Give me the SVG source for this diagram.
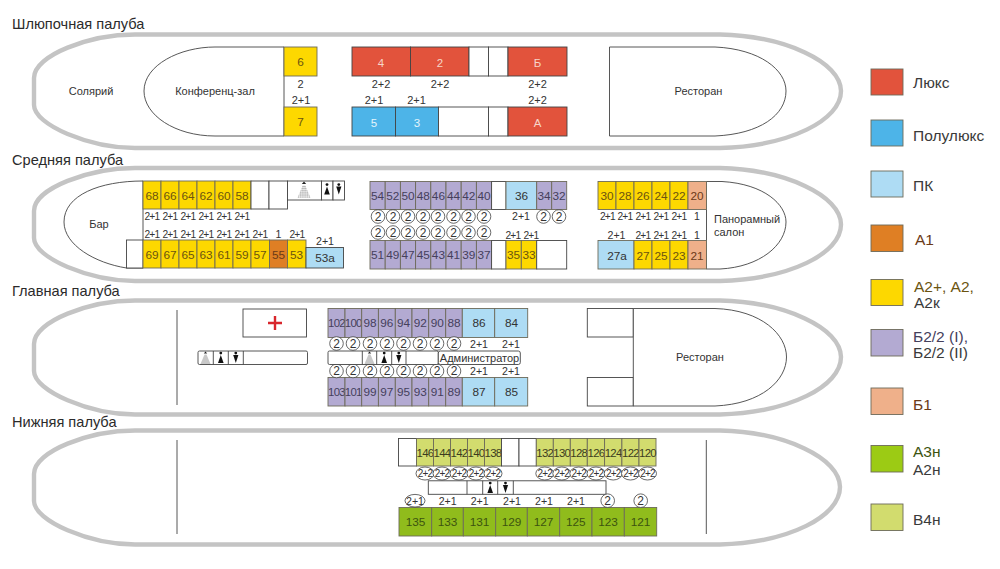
<svg xmlns="http://www.w3.org/2000/svg" width="1000" height="569" viewBox="0 0 1000 569">
<style>
text{font-family:"Liberation Sans",Arial,sans-serif;font-size:11px;fill:#333;text-anchor:middle}
.h{font-size:14.6px;text-anchor:start;fill:#2b2b2b}
.lg{font-size:15.5px;text-anchor:start;fill:#3a3a3a}
.n{font-size:11.8px;fill:#4a4228}
.nw{font-size:11.5px;fill:#f6d6c8}
.s{font-size:10.6px}
.t{font-size:10.2px;letter-spacing:-.7px}
.x{font-size:11.4px;letter-spacing:-.7px;fill:#3c3c20}
.y{font-size:10px;letter-spacing:-.8px}
.hull{fill:#fff;stroke:#c4c4c4;stroke-width:4.4}
.o,.e,.ln{stroke:#444;stroke-width:.9}
.o,.e{fill:#fff}
.ln{fill:none}
.c{fill:#fff;stroke:#444;stroke-width:.8}
.sb{stroke:#6d6a5a;stroke-width:.9}
.red{fill:#e2533c}.blu{fill:#4db4e8}.lbl{fill:#aedcf4}.org{fill:#df7f24}.yel{fill:#fdd800}.pur{fill:#b3aad2}.pea{fill:#efb08a}.grn{fill:#90bc1c}.oli{fill:#d2dc6e}
.yel+text{fill:#6b5410}.pur+text{fill:#45405c}.grn+text{fill:#3d5410}.pea+text,.org+text{fill:#6b3a18}
</style>
<defs>
<pattern id="dots" width="1.6" height="1.6" patternUnits="userSpaceOnUse"><rect width="1.6" height="1.6" fill="#fff"/><circle cx=".8" cy=".8" r=".55" fill="#666"/></pattern>
<g id="sh"><path d="M-1.7 2 L0 0 L1.7 2Z" fill="#222"/><path d="M-1 3 L1 3 L5 12.5 L-5 12.5Z" fill="url(#dots)"/></g>
<g id="wo"><circle cx="0" cy="1.6" r="1.4" fill="#111"/><path d="M0 3.4 L2.8 11.5 L-2.8 11.5Z" fill="#111"/></g>
<g id="ma"><circle cx="0" cy="1.6" r="1.4" fill="#111"/><path d="M-2.6 3.6 L2.6 3.6 L0 11.5Z" fill="#111"/></g>
<g id="cr"><circle r="6.8" class="c"/><text y="4.300" style="font-size:12px">2</text></g>
</defs>

<g id="deck1">
<text class="h" x="12" y="29">Шлюпочная палуба</text>
<path class="hull" d="M135 34.500 L720 34.500 C785 36 841 62 841 91 C841 120 790 146 720 148 L135 148 C90 148 34 125 34 105 L34 78 C34 55 90 34.500 135 34.500Z"/>
<g id="konf"><path class="o" d="M284 47 L215 47 C180 47 144 65 144 91 C144 115 175 136 215 136 L284 136Z"/><text x="215" y="95">Конференц-зал</text></g>
<text id="solar" x="91" y="95">Солярий</text>
<g id="c6"><rect class="sb yel" x="284" y="47" width="33" height="29"/><text class="n" x="300.500" y="66">6</text></g>
<g id="c7"><rect class="sb yel" x="284" y="107" width="33" height="29"/><text class="n" x="300.500" y="126">7</text></g>
<g id="c4"><rect class="o red" x="352" y="47" width="58.500" height="29"/><text class="nw" x="381" y="67">4</text></g>
<g id="c2"><rect class="o red" x="410.500" y="47" width="58.500" height="29"/><text class="nw" x="440" y="67">2</text></g>
<rect class="e" x="469" y="47" width="19.500" height="29"/><rect class="e" x="488.500" y="47" width="19.500" height="29"/>
<g id="cB"><rect class="o red" x="508" y="47" width="59" height="29"/><text class="nw" x="537.500" y="67">Б</text></g>
<g id="c5"><rect class="o blu" x="352" y="107" width="43.500" height="29"/><text class="nw" x="374" y="127" style="fill:#e4f4fc">5</text></g>
<g id="c3"><rect class="o blu" x="395.500" y="107" width="43" height="29"/><text class="nw" x="417" y="127" style="fill:#e4f4fc">3</text></g>
<rect class="e" x="438.500" y="107" width="50" height="29"/><rect class="e" x="488.500" y="107" width="19.500" height="29"/>
<g id="cA"><rect class="o red" x="508" y="107" width="59" height="29"/><text class="nw" x="537.500" y="127">А</text></g>
<g id="rest1"><path class="o" d="M609.500 47 L715 47 C760 49 786 70 786 91 C786 115 760 134 715 136 L609.500 136Z"/><text x="698.500" y="95">Ресторан</text></g>
<g class="cap">
<text x="300.500" y="87.500">2</text><text x="301" y="104">2+1</text>
<text x="381" y="87.500">2+2</text><text x="440" y="87.500">2+2</text><text x="537.500" y="87.500">2+2</text>
<text x="374" y="104">2+1</text><text x="416.500" y="104">2+1</text><text x="537.500" y="104">2+2</text>
</g>
</g>

<g id="deck2">
<text class="h" x="12" y="165">Средняя палуба</text>
<path class="hull" d="M135 168 L720 168 C785 169.500 841 195.500 841 224.500 C841 253.500 790 279 720 281 L135 281 C90 281 34 258 34 238 L34 211 C34 188 90 168 135 168Z"/>
<g id="bar"><path class="o" d="M143 181 C100 181 64 195 64 222 C64 245 95 263 126.500 268 L143 268Z"/><text x="99" y="228">Бар</text></g>
<rect class="e" x="126.500" y="240" width="16.500" height="28"/>
<g id="c68"><rect class="sb yel" x="143" y="181" width="18" height="28"/><text class="n" x="152" y="200">68</text></g>
<g id="c66"><rect class="sb yel" x="161" y="181" width="18" height="28"/><text class="n" x="170" y="200">66</text></g>
<g id="c64"><rect class="sb yel" x="179" y="181" width="18" height="28"/><text class="n" x="188" y="200">64</text></g>
<g id="c62"><rect class="sb yel" x="197" y="181" width="18" height="28"/><text class="n" x="206" y="200">62</text></g>
<g id="c60"><rect class="sb yel" x="215" y="181" width="18" height="28"/><text class="n" x="224" y="200">60</text></g>
<g id="c58"><rect class="sb yel" x="233" y="181" width="18" height="28"/><text class="n" x="242" y="200">58</text></g>
<rect class="e" x="251" y="181" width="18" height="28"/><rect class="e" x="269" y="181" width="18.500" height="28"/>
<g id="wc2"><rect class="e" x="287.500" y="181" width="34" height="19"/><rect class="e" x="321.500" y="181" width="11.500" height="19"/><rect class="e" x="333" y="181" width="11.500" height="19"/>
<use href="#sh" transform="translate(304 181.500) scale(1.300)"/><use href="#wo" transform="translate(327 183)"/><use href="#ma" transform="translate(338.800 183)"/></g>
<g id="c69"><rect class="sb yel" x="143" y="240" width="18" height="28"/><text class="n" x="152" y="259">69</text></g>
<g id="c67"><rect class="sb yel" x="161" y="240" width="18" height="28"/><text class="n" x="170" y="259">67</text></g>
<g id="c65"><rect class="sb yel" x="179" y="240" width="18" height="28"/><text class="n" x="188" y="259">65</text></g>
<g id="c63"><rect class="sb yel" x="197" y="240" width="18" height="28"/><text class="n" x="206" y="259">63</text></g>
<g id="c61"><rect class="sb yel" x="215" y="240" width="18" height="28"/><text class="n" x="224" y="259">61</text></g>
<g id="c59"><rect class="sb yel" x="233" y="240" width="18" height="28"/><text class="n" x="242" y="259">59</text></g>
<g id="c57"><rect class="sb yel" x="251" y="240" width="18.500" height="28"/><text class="n" x="260" y="259">57</text></g>
<g id="c55"><rect class="sb org" x="269.500" y="240" width="18" height="28"/><text class="n" x="278.500" y="259">55</text></g>
<g id="c53"><rect class="sb yel" x="287.500" y="240" width="18.500" height="28"/><text class="n" x="296.500" y="259">53</text></g>
<g id="c53a"><rect class="o lbl" x="306" y="247.500" width="37.500" height="20.500"/><text class="n" x="325" y="261.500" style="fill:#333">53а</text></g>
<g id="caps2l" class="cap">
<text class="t" x="152" y="220">2+1</text><text class="t" x="170" y="220">2+1</text><text class="t" x="188" y="220">2+1</text><text class="t" x="206" y="220">2+1</text><text class="t" x="224" y="220">2+1</text><text class="t" x="242" y="220">2+1</text>
<text class="t" x="152" y="238">2+1</text><text class="t" x="170" y="238">2+1</text><text class="t" x="188" y="238">2+1</text><text class="t" x="206" y="238">2+1</text><text class="t" x="224" y="238">2+1</text><text class="t" x="242" y="238">2+1</text><text class="t" x="260" y="238">2+1</text><text class="s" x="278.500" y="238">1</text><text class="t" x="297" y="238">2+1</text>
<text class="s" x="325" y="245">2+1</text>
</g>
<g id="c54"><rect class="sb pur" x="370" y="181.500" width="15.200" height="28"/><text class="n" x="377.600" y="200">54</text></g>
<g id="c52"><rect class="sb pur" x="385.200" y="181.500" width="15.200" height="28"/><text class="n" x="392.800" y="200">52</text></g>
<g id="c50"><rect class="sb pur" x="400.400" y="181.500" width="15.200" height="28"/><text class="n" x="408" y="200">50</text></g>
<g id="c48"><rect class="sb pur" x="415.600" y="181.500" width="15.200" height="28"/><text class="n" x="423.200" y="200">48</text></g>
<g id="c46"><rect class="sb pur" x="430.800" y="181.500" width="15.200" height="28"/><text class="n" x="438.400" y="200">46</text></g>
<g id="c44"><rect class="sb pur" x="446" y="181.500" width="15.200" height="28"/><text class="n" x="453.600" y="200">44</text></g>
<g id="c42"><rect class="sb pur" x="461.200" y="181.500" width="15.200" height="28"/><text class="n" x="468.800" y="200">42</text></g>
<g id="c40"><rect class="sb pur" x="476.400" y="181.500" width="15.200" height="28"/><text class="n" x="484" y="200">40</text></g>
<rect class="e" x="491.600" y="181.500" width="14.400" height="28"/>
<g id="c36"><rect class="sb lbl" x="506" y="181.500" width="30.700" height="28"/><text class="n" x="521.500" y="200" style="fill:#333">36</text></g>
<g id="c34"><rect class="sb pur" x="536.700" y="181.500" width="15" height="28"/><text class="n" x="544" y="200">34</text></g>
<g id="c32"><rect class="sb pur" x="551.700" y="181.500" width="15" height="28"/><text class="n" x="559" y="200">32</text></g>
<g id="c51"><rect class="sb pur" x="370" y="240.500" width="15.200" height="28.500"/><text class="n" x="377.600" y="259">51</text></g>
<g id="c49"><rect class="sb pur" x="385.200" y="240.500" width="15.200" height="28.500"/><text class="n" x="392.800" y="259">49</text></g>
<g id="c47"><rect class="sb pur" x="400.400" y="240.500" width="15.200" height="28.500"/><text class="n" x="408" y="259">47</text></g>
<g id="c45"><rect class="sb pur" x="415.600" y="240.500" width="15.200" height="28.500"/><text class="n" x="423.200" y="259">45</text></g>
<g id="c43"><rect class="sb pur" x="430.800" y="240.500" width="15.200" height="28.500"/><text class="n" x="438.400" y="259">43</text></g>
<g id="c41"><rect class="sb pur" x="446" y="240.500" width="15.200" height="28.500"/><text class="n" x="453.600" y="259">41</text></g>
<g id="c39"><rect class="sb pur" x="461.200" y="240.500" width="15.200" height="28.500"/><text class="n" x="468.800" y="259">39</text></g>
<g id="c37"><rect class="sb pur" x="476.400" y="240.500" width="15.200" height="28.500"/><text class="n" x="484" y="259">37</text></g>
<rect class="e" x="491.600" y="240.500" width="14.400" height="28.500"/>
<g id="c35"><rect class="sb yel" x="506" y="240.500" width="15.300" height="28.500"/><text class="n" x="513.600" y="259">35</text></g>
<g id="c33"><rect class="sb yel" x="521.300" y="240.500" width="15.400" height="28.500"/><text class="n" x="529" y="259">33</text></g>
<rect class="e" x="536.700" y="240.500" width="30" height="28.500"/>
<g id="circ2">
<use href="#cr" x="378" y="216.500"/><use href="#cr" x="393" y="216.500"/><use href="#cr" x="408" y="216.500"/><use href="#cr" x="423" y="216.500"/><use href="#cr" x="438" y="216.500"/><use href="#cr" x="453.500" y="216.500"/><use href="#cr" x="468.500" y="216.500"/><use href="#cr" x="484" y="216.500"/>
<use href="#cr" x="378" y="232.500"/><use href="#cr" x="393" y="232.500"/><use href="#cr" x="408" y="232.500"/><use href="#cr" x="423" y="232.500"/><use href="#cr" x="438" y="232.500"/><use href="#cr" x="453.500" y="232.500"/><use href="#cr" x="468.500" y="232.500"/><use href="#cr" x="484" y="232.500"/>
<use href="#cr" x="543.500" y="216.500"/><use href="#cr" x="559" y="216.500"/>
</g>
<text class="s" x="521" y="220">2+1</text><text class="t" x="513" y="238.500">2+1</text><text class="t" x="531" y="238.500">2+1</text>
<g id="pano"><path class="o" d="M706.500 181.500 L722 181.500 C765 184 786 205 786 222 C786 245 760 267 720 269 L706.500 269Z"/><text x="714" y="223" style="text-anchor:start">Панорамный</text><text x="714" y="235.500" style="text-anchor:start">салон</text></g>
<g id="c30"><rect class="sb yel" x="598" y="181.500" width="18" height="28"/><text class="n" x="607" y="200">30</text></g>
<g id="c28"><rect class="sb yel" x="616" y="181.500" width="18" height="28"/><text class="n" x="625" y="200">28</text></g>
<g id="c26"><rect class="sb yel" x="634" y="181.500" width="18" height="28"/><text class="n" x="643" y="200">26</text></g>
<g id="c24"><rect class="sb yel" x="652" y="181.500" width="18" height="28"/><text class="n" x="661" y="200">24</text></g>
<g id="c22"><rect class="sb yel" x="670" y="181.500" width="18" height="28"/><text class="n" x="679" y="200">22</text></g>
<g id="c20"><rect class="sb pea" x="688" y="181.500" width="18.500" height="28"/><text class="n" x="697" y="200">20</text></g>
<g id="c27a"><rect class="sb lbl" x="598" y="240.500" width="36" height="28.500"/><text class="n" x="617" y="259.500" style="fill:#333">27а</text></g>
<g id="c27"><rect class="sb yel" x="634" y="240.500" width="18" height="28.500"/><text class="n" x="643" y="259.500">27</text></g>
<g id="c25"><rect class="sb yel" x="652" y="240.500" width="18" height="28.500"/><text class="n" x="661" y="259.500">25</text></g>
<g id="c23"><rect class="sb yel" x="670" y="240.500" width="18" height="28.500"/><text class="n" x="679" y="259.500">23</text></g>
<g id="c21"><rect class="sb pea" x="688" y="240.500" width="18.500" height="28.500"/><text class="n" x="697" y="259.500">21</text></g>
<text class="t" x="607.500" y="220">2+1</text><text class="t" x="625" y="220">2+1</text><text class="t" x="643" y="220">2+1</text><text class="t" x="661" y="220">2+1</text><text class="t" x="679" y="220">2+1</text><text class="s" x="697" y="220">1</text>
<text class="s" x="616.500" y="238.500">2+1</text><text class="t" x="643" y="238.500">2+1</text><text class="t" x="661" y="238.500">2+1</text><text class="t" x="679" y="238.500">2+1</text><text class="s" x="697" y="238.500">1</text>
</g>

<g id="deck3">
<text class="h" x="12" y="296">Главная палуба</text>
<path class="hull" d="M135 300.500 L720 300.500 C785 302 841 328 841 357 C841 386 790 412.500 720 414.500 L135 414.500 C90 414.500 34 391 34 371 L34 344 C34 321 90 300.500 135 300.500Z"/>
<line class="ln" x1="177" y1="310" x2="177" y2="405"/>
<g id="med"><rect class="e" x="243" y="309" width="63.500" height="28"/><path d="M268 321.800 H273.800 V316 H276.200 V321.800 H282 V324.200 H276.200 V330 H273.800 V324.200 H268Z" fill="#d8262c"/></g>
<g id="wc3a"><rect class="e" x="198" y="351" width="109.500" height="13.500" rx="1.500"/><line class="ln" x1="213.300" y1="351" x2="213.300" y2="364.500"/><line class="ln" x1="228.300" y1="351" x2="228.300" y2="364.500"/><line class="ln" x1="243.300" y1="351" x2="243.300" y2="364.500"/>
<use href="#sh" transform="translate(205.500 351.500)"/><use href="#wo" transform="translate(220.800 351.500)"/><use href="#ma" transform="translate(235.800 351.500)"/></g>
<g id="c102"><rect class="sb pur" x="328" y="308.500" width="17" height="29"/><text class="x" x="336.500" y="327">102</text></g>
<g id="c100"><rect class="sb pur" x="345" y="308.500" width="16.700" height="29"/><text class="x" x="353.300" y="327">100</text></g>
<g id="c98"><rect class="sb pur" x="361.700" y="308.500" width="16.700" height="29"/><text class="n" x="370" y="327">98</text></g>
<g id="c96"><rect class="sb pur" x="378.400" y="308.500" width="16.900" height="29"/><text class="n" x="386.800" y="327">96</text></g>
<g id="c94"><rect class="sb pur" x="395.300" y="308.500" width="16.700" height="29"/><text class="n" x="403.600" y="327">94</text></g>
<g id="c92"><rect class="sb pur" x="412" y="308.500" width="16.700" height="29"/><text class="n" x="420.300" y="327">92</text></g>
<g id="c90"><rect class="sb pur" x="428.700" y="308.500" width="17" height="29"/><text class="n" x="437.200" y="327">90</text></g>
<g id="c88"><rect class="sb pur" x="445.700" y="308.500" width="16.600" height="29"/><text class="n" x="454" y="327">88</text></g>
<g id="c86"><rect class="sb lbl" x="462.300" y="308.500" width="32.400" height="29"/><text class="n" x="479" y="327" style="fill:#333">86</text></g>
<g id="c84"><rect class="sb lbl" x="494.700" y="308.500" width="33" height="29"/><text class="n" x="511.500" y="327" style="fill:#333">84</text></g>
<g id="c103"><rect class="sb pur" x="328" y="377.500" width="17" height="28.500"/><text class="x" x="336.500" y="396">103</text></g>
<g id="c101"><rect class="sb pur" x="345" y="377.500" width="16.700" height="28.500"/><text class="x" x="353.300" y="396">101</text></g>
<g id="c99"><rect class="sb pur" x="361.700" y="377.500" width="16.700" height="28.500"/><text class="n" x="370" y="396">99</text></g>
<g id="c97"><rect class="sb pur" x="378.400" y="377.500" width="16.900" height="28.500"/><text class="n" x="386.800" y="396">97</text></g>
<g id="c95"><rect class="sb pur" x="395.300" y="377.500" width="16.700" height="28.500"/><text class="n" x="403.600" y="396">95</text></g>
<g id="c93"><rect class="sb pur" x="412" y="377.500" width="16.700" height="28.500"/><text class="n" x="420.300" y="396">93</text></g>
<g id="c91"><rect class="sb pur" x="428.700" y="377.500" width="17" height="28.500"/><text class="n" x="437.200" y="396">91</text></g>
<g id="c89"><rect class="sb pur" x="445.700" y="377.500" width="16.600" height="28.500"/><text class="n" x="454" y="396">89</text></g>
<g id="c87"><rect class="sb lbl" x="462.300" y="377.500" width="32.400" height="28.500"/><text class="n" x="479" y="396" style="fill:#333">87</text></g>
<g id="c85"><rect class="sb lbl" x="494.700" y="377.500" width="33" height="28.500"/><text class="n" x="511.500" y="396" style="fill:#333">85</text></g>
<g id="circ3">
<use href="#cr" x="336.500" y="343.500"/><use href="#cr" x="353" y="343.500"/><use href="#cr" x="370" y="343.500"/><use href="#cr" x="387" y="343.500"/><use href="#cr" x="403.500" y="343.500"/><use href="#cr" x="420" y="343.500"/><use href="#cr" x="437" y="343.500"/><use href="#cr" x="454" y="343.500"/>
<use href="#cr" x="336.500" y="371"/><use href="#cr" x="353" y="371"/><use href="#cr" x="370" y="371"/><use href="#cr" x="387" y="371"/><use href="#cr" x="403.500" y="371"/><use href="#cr" x="420" y="371"/><use href="#cr" x="437" y="371"/><use href="#cr" x="454" y="371"/>
</g>
<text class="s" x="479" y="347.500">2+1</text><text class="s" x="511" y="347.500">2+1</text><text class="s" x="479" y="375">2+1</text><text class="s" x="511" y="375">2+1</text>
<g id="wc3b"><rect class="e" x="328" y="351" width="110.300" height="13.500" rx="1.500"/><line class="ln" x1="362.300" y1="351" x2="362.300" y2="364.500"/><line class="ln" x1="376.700" y1="351" x2="376.700" y2="364.500"/><line class="ln" x1="391.700" y1="351" x2="391.700" y2="364.500"/><line class="ln" x1="406" y1="351" x2="406" y2="364.500"/>
<use href="#sh" transform="translate(369.500 351.500)"/><use href="#wo" transform="translate(384.200 351.500)"/><use href="#ma" transform="translate(398.800 351.500)"/></g>
<g id="admin"><rect class="e" x="438.300" y="351" width="82" height="13.500" rx="2"/><text x="479.500" y="362">Администратор</text></g>
<g id="rest3"><rect class="e" x="587.300" y="308.500" width="46" height="28.500"/><rect class="e" x="587.300" y="377.500" width="46" height="28.500"/><path class="o" d="M633.300 308.500 L715 308.500 C762 310 786.500 335 786.500 357 C786.500 380 762 404 715 406 L633.300 406Z"/><text x="700" y="361">Ресторан</text></g>
</g>

<g id="deck4">
<text class="h" x="12" y="427">Нижняя палуба</text>
<path class="hull" d="M135 430.500 L720 430.500 C785 432 840 458 840 487 C840 516 790 542.500 720 544.500 L135 544.500 C90 544.500 34 521 34 501 L34 474 C34 451 90 430.500 135 430.500Z"/>
<line class="ln" x1="177" y1="440" x2="177" y2="534"/><line class="ln" x1="706.300" y1="440" x2="706.300" y2="534"/>
<rect class="e" x="398.500" y="438.500" width="18" height="27.500"/>
<g id="c146"><rect class="sb oli" x="416.500" y="438.500" width="17" height="27.500"/><text class="x" x="425" y="456.500">146</text></g>
<g id="c144"><rect class="sb oli" x="433.500" y="438.500" width="17" height="27.500"/><text class="x" x="442" y="456.500">144</text></g>
<g id="c142"><rect class="sb oli" x="450.500" y="438.500" width="17" height="27.500"/><text class="x" x="459" y="456.500">142</text></g>
<g id="c140"><rect class="sb oli" x="467.500" y="438.500" width="17" height="27.500"/><text class="x" x="476" y="456.500">140</text></g>
<g id="c138"><rect class="sb oli" x="484.500" y="438.500" width="17" height="27.500"/><text class="x" x="493" y="456.500">138</text></g>
<rect class="e" x="501.500" y="438.500" width="17.500" height="27.500"/><rect class="e" x="519" y="438.500" width="17.300" height="27.500"/>
<g id="c132"><rect class="sb oli" x="536.300" y="438.500" width="17" height="27.500"/><text class="x" x="544.800" y="456.500">132</text></g>
<g id="c130"><rect class="sb oli" x="553.300" y="438.500" width="17" height="27.500"/><text class="x" x="561.800" y="456.500">130</text></g>
<g id="c128"><rect class="sb oli" x="570.300" y="438.500" width="17" height="27.500"/><text class="x" x="578.800" y="456.500">128</text></g>
<g id="c126"><rect class="sb oli" x="587.300" y="438.500" width="17.300" height="27.500"/><text class="x" x="596" y="456.500">126</text></g>
<g id="c124"><rect class="sb oli" x="604.600" y="438.500" width="17.300" height="27.500"/><text class="x" x="613.200" y="456.500">124</text></g>
<g id="c122"><rect class="sb oli" x="621.900" y="438.500" width="17.100" height="27.500"/><text class="x" x="630.500" y="456.500">122</text></g>
<g id="c120"><rect class="sb oli" x="639" y="438.500" width="17" height="27.500"/><text class="x" x="647.500" y="456.500">120</text></g>
<g id="caps4a">
<ellipse class="c" cx="425" cy="473.500" rx="9" ry="6.500"/><text class="y" x="425" y="477">2+2</text>
<ellipse class="c" cx="442" cy="473.500" rx="9" ry="6.500"/><text class="y" x="442" y="477">2+2</text>
<ellipse class="c" cx="459" cy="473.500" rx="9" ry="6.500"/><text class="y" x="459" y="477">2+2</text>
<ellipse class="c" cx="476" cy="473.500" rx="9" ry="6.500"/><text class="y" x="476" y="477">2+2</text>
<ellipse class="c" cx="493" cy="473.500" rx="9" ry="6.500"/><text class="y" x="493" y="477">2+2</text>
<ellipse class="c" cx="544.800" cy="473.500" rx="9" ry="6.500"/><text class="y" x="544.800" y="477">2+2</text>
<ellipse class="c" cx="561.800" cy="473.500" rx="9" ry="6.500"/><text class="y" x="561.800" y="477">2+2</text>
<ellipse class="c" cx="578.800" cy="473.500" rx="9" ry="6.500"/><text class="y" x="578.800" y="477">2+2</text>
<ellipse class="c" cx="596" cy="473.500" rx="9" ry="6.500"/><text class="y" x="596" y="477">2+2</text>
<ellipse class="c" cx="613.200" cy="473.500" rx="9" ry="6.500"/><text class="y" x="613.200" y="477">2+2</text>
<ellipse class="c" cx="630.500" cy="473.500" rx="9" ry="6.500"/><text class="y" x="630.500" y="477">2+2</text>
<ellipse class="c" cx="647.500" cy="473.500" rx="9" ry="6.500"/><text class="y" x="647.500" y="477">2+2</text>
</g>
<g id="wc4"><rect class="e" x="428.300" y="480.800" width="177.700" height="13.500"/><line class="ln" x1="467" y1="480.800" x2="467" y2="494.300"/><line class="ln" x1="482.700" y1="480.800" x2="482.700" y2="494.300"/><line class="ln" x1="497.700" y1="480.800" x2="497.700" y2="494.300"/><line class="ln" x1="513.300" y1="480.800" x2="513.300" y2="494.300"/>
<use href="#wo" transform="translate(490.200 481.500)"/><use href="#ma" transform="translate(505.500 481.500)"/></g>
<g id="c135"><rect class="sb grn" x="399" y="507.500" width="32.700" height="28.500"/><text class="n" x="415.500" y="526">135</text></g>
<g id="c133"><rect class="sb grn" x="431.700" y="507.500" width="31.600" height="28.500"/><text class="n" x="447.500" y="526">133</text></g>
<g id="c131"><rect class="sb grn" x="463.300" y="507.500" width="32.400" height="28.500"/><text class="n" x="479.500" y="526">131</text></g>
<g id="c129"><rect class="sb grn" x="495.700" y="507.500" width="31.600" height="28.500"/><text class="n" x="511.500" y="526">129</text></g>
<g id="c127"><rect class="sb grn" x="527.300" y="507.500" width="32.400" height="28.500"/><text class="n" x="543.500" y="526">127</text></g>
<g id="c125"><rect class="sb grn" x="559.700" y="507.500" width="32.300" height="28.500"/><text class="n" x="575.800" y="526">125</text></g>
<g id="c123"><rect class="sb grn" x="592" y="507.500" width="32.300" height="28.500"/><text class="n" x="608" y="526">123</text></g>
<g id="c121"><rect class="sb grn" x="624.300" y="507.500" width="32.400" height="28.500"/><text class="n" x="640.500" y="526">121</text></g>
<ellipse class="c" cx="415" cy="500.700" rx="10" ry="6.300"/><text class="s" x="415" y="504.500">2+1</text>
<text class="s" x="447.700" y="504.500">2+1</text><text class="s" x="479.700" y="504.500">2+1</text><text class="s" x="512" y="504.500">2+1</text><text class="s" x="544" y="504.500">2+1</text><text class="s" x="576" y="504.500">2+1</text>
<use href="#cr" x="607.700" y="500.700"/><use href="#cr" x="640.700" y="500.700"/>
</g>

<g id="legend">
<g id="lg1"><rect class="sb red" x="871" y="69" width="32" height="26"/><text class="lg" x="913" y="88">Люкс</text></g>
<g id="lg2"><rect class="sb blu" x="871" y="120" width="32" height="26"/><text class="lg" x="913" y="141">Полулюкс</text></g>
<g id="lg3"><rect class="sb lbl" x="871" y="171" width="32" height="26"/><text class="lg" x="913" y="191">ПК</text></g>
<g id="lg4"><rect class="sb org" x="871" y="225" width="32" height="26.500"/><text class="lg" x="915" y="244.500">А1</text></g>
<g id="lg5"><rect class="sb yel" x="871" y="279.500" width="32" height="26"/><text class="lg" x="914" y="292">А2+, А2,</text><text class="lg" x="914" y="308">А2к</text></g>
<g id="lg6"><rect class="sb pur" x="871" y="329.500" width="32" height="26.500"/><text class="lg" x="913" y="341.500">Б2/2 (I),</text><text class="lg" x="913" y="358">Б2/2 (II)</text></g>
<g id="lg7"><rect class="sb pea" x="871" y="388" width="32" height="26.500"/><text class="lg" x="913" y="409.500">Б1</text></g>
<g id="lg8"><rect class="sb grn" x="871" y="445.500" width="32" height="26.500" style="fill:#9ccb14"/><text class="lg" x="913" y="457">А3н</text><text class="lg" x="913" y="475">А2н</text></g>
<g id="lg9"><rect class="sb oli" x="871" y="504" width="32" height="26.500"/><text class="lg" x="913" y="525">В4н</text></g>
</g>
</svg>
